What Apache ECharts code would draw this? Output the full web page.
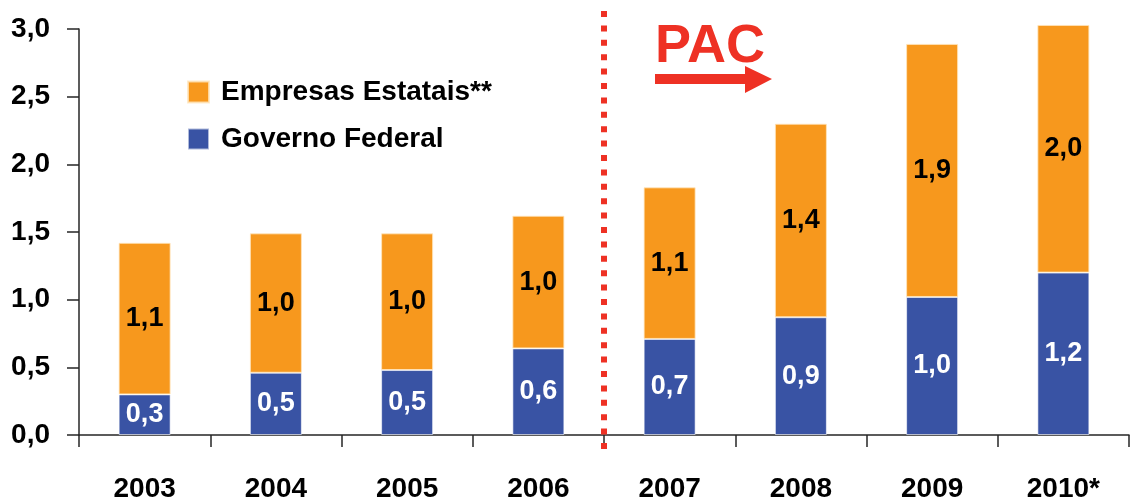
<!DOCTYPE html>
<html>
<head>
<meta charset="utf-8">
<script src="https://cdn.jsdelivr.net/npm/echarts@6/dist/echarts.min.js"></script>
<style>
html,body{margin:0;padding:0;background:#fff;}
#c{width:1131px;height:504px;}
</style>
</head>
<body>
<div id="c"></div>
<script>
const years = ['2003','2004','2005','2006','2007','2008','2009','2010*'];
const governo = [0.30, 0.46, 0.48, 0.64, 0.71, 0.87, 1.02, 1.20];
const empresas = [1.12, 1.03, 1.01, 0.98, 1.12, 1.43, 1.87, 1.83];
const governoLabels = ['0,3','0,5','0,5','0,6','0,7','0,9','1,0','1,2'];
const empresasLabels = ['1,1','1,0','1,0','1,0','1,1','1,4','1,9','2,0'];
const yTicks = {min: 0, max: 3, interval: 0.5};

const FONT = '"Liberation Sans", Arial, sans-serif';
const BLUE = '#3953A4';
const ORANGE = '#F7981D';
const RED = '#EE3124';
const AX = '#262626';

const chart = echarts.init(document.getElementById('c'));
chart.setOption({
  animation: false,
  backgroundColor: '#fff',
  grid: {left: 79, right: 2, top: 29, bottom: 69, containLabel: false},
  legend: {
    orient: 'vertical', left: 182, top: 73,
    itemWidth: 21, itemHeight: 21, itemGap: 19,
    icon: 'rect',
    data: ['Empresas Estatais**', 'Governo Federal'],
    textStyle: {fontFamily: FONT, fontWeight: 'bold', fontSize: 28, color: '#000', padding: [0,0,0,7]}
  },
  xAxis: {
    type: 'category', data: years,
    axisLine: {lineStyle: {color: AX, width: 1.5}},
    axisTick: {show: true, length: 12, alignWithLabel: false, lineStyle: {color: AX, width: 1.5}},
    axisLabel: {margin: 40, fontFamily: FONT, fontWeight: 'bold', fontSize: 28, color: '#000'}
  },
  yAxis: {
    type: 'value', min: yTicks.min, max: yTicks.max, interval: yTicks.interval,
    splitLine: {show: false},
    axisLine: {show: true, lineStyle: {color: AX, width: 1.5}},
    axisTick: {show: true, length: 12, lineStyle: {color: AX, width: 1.5}},
    axisLabel: {margin: 29, fontFamily: FONT, fontWeight: 'bold', fontSize: 28, color: '#000',
      formatter: v => v.toFixed(1).replace('.', ',')}
  },
  series: [
    {
      name: 'Governo Federal', type: 'bar', stack: 'a', barWidth: 52, clip: false,
      data: governo,
      itemStyle: {color: BLUE, borderColor: 'rgba(255,255,255,0.6)', borderWidth: 1},
      label: {show: true, position: 'inside', color: '#fff', fontFamily: FONT, fontWeight: 'bold', fontSize: 27,
        formatter: p => governoLabels[p.dataIndex]}
    },
    {
      name: 'Empresas Estatais**', type: 'bar', stack: 'a', barWidth: 52, clip: false,
      data: empresas,
      itemStyle: {color: ORANGE, borderColor: 'rgba(255,230,190,0.8)', borderWidth: 1},
      label: {show: true, position: 'inside', color: '#000', fontFamily: FONT, fontWeight: 'bold', fontSize: 27,
        formatter: p => empresasLabels[p.dataIndex]}
    }
  ]
});

// dotted divider between 2006 and 2007
const p6 = chart.convertToPixel({xAxisIndex: 0}, years[3]);
const p7 = chart.convertToPixel({xAxisIndex: 0}, years[4]);
const xd = (p6 + p7) / 2;
chart.setOption({
  graphic: [
    {type: 'line', shape: {x1: xd, y1: 11, x2: xd, y2: 453},
     style: {stroke: RED, lineWidth: 6, lineDash: [6, 8.4], lineCap: 'butt'}, z: 10},
    {type: 'text', left: 655, top: 20,
     style: {text: 'PAC', fill: RED, font: '900 54px ' + FONT}, z: 10},
    {type: 'polygon', z: 10,
     shape: {points: [[655,74],[745,74],[745,66],[772,79],[745,93],[745,84],[655,84]]},
     style: {fill: RED}}
  ]
});
</script>
</body>
</html>
